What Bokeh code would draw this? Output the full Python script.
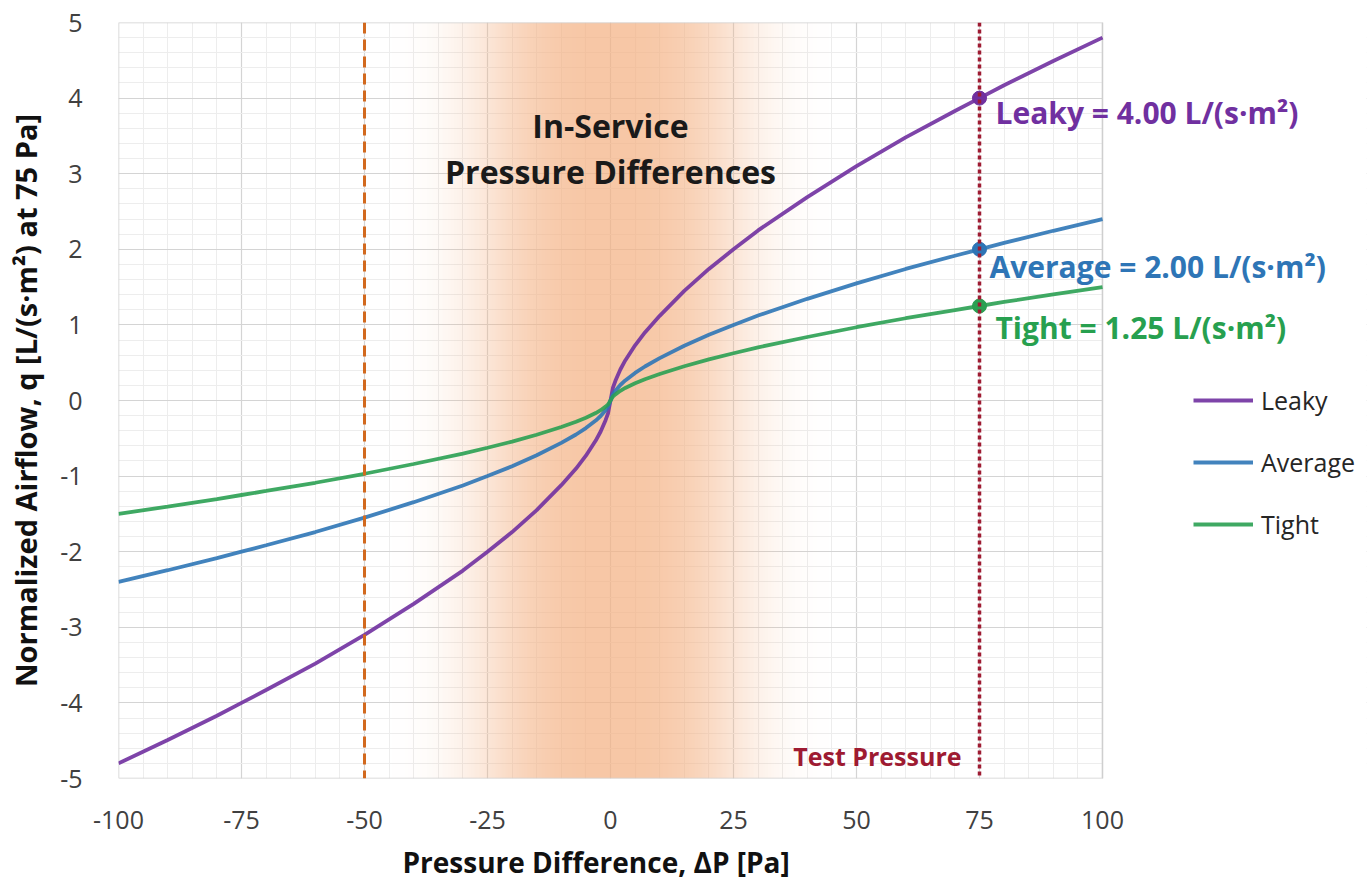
import numpy as np
from bokeh.plotting import figure
from bokeh.models import (Label, Span, Legend, LegendItem, SingleIntervalTicker,
                          FixedTicker, Range1d, Title)
from bokeh.embed import file_html
from bokeh.resources import INLINE

# ---------------- data ----------------
pressure = [-100, -90, -80, -75, -70, -60, -50, -40, -30, -25, -20, -15, -10, -7, -5, -3, -2, -1, -0.5, 0,
            0.5, 1, 2, 3, 5, 7, 10, 15, 20, 25, 30, 40, 50, 60, 70, 75, 80, 90, 100]
leaky = [-4.80, -4.49, -4.17, -4.00, -3.83, -3.48, -3.10, -2.69, -2.25, -2.00, -1.74, -1.45, -1.12, -0.90,
         -0.73, -0.53, -0.41, -0.26, -0.17, 0.0,
         0.17, 0.26, 0.41, 0.53, 0.73, 0.90, 1.12, 1.45, 1.74, 2.00, 2.25, 2.69, 3.10, 3.48, 3.83, 4.00,
         4.17, 4.49, 4.80]
average = [-2.40, -2.245, -2.085, -2.00, -1.915, -1.74, -1.55, -1.345, -1.125, -1.00, -0.87, -0.725, -0.56,
           -0.45, -0.365, -0.265, -0.205, -0.13, -0.085, 0.0,
           0.085, 0.13, 0.205, 0.265, 0.365, 0.45, 0.56, 0.725, 0.87, 1.00, 1.125, 1.345, 1.55, 1.74, 1.915,
           2.00, 2.085, 2.245, 2.40]
tight = [-1.50, -1.403, -1.303, -1.25, -1.197, -1.088, -0.969, -0.84, -0.703, -0.625, -0.544, -0.453, -0.35,
         -0.281, -0.228, -0.166, -0.128, -0.081, -0.053, 0.0,
         0.053, 0.081, 0.128, 0.166, 0.228, 0.281, 0.35, 0.453, 0.544, 0.625, 0.703, 0.84, 0.969, 1.088,
         1.197, 1.25, 1.303, 1.403, 1.50]

series_names = ["Leaky", "Average", "Tight"]
test_pressure = 75
test_values = [4.00, 2.00, 1.25]
test_labels = ["Leaky = 4.00 L/(s\u00b7m\u00b2)", "Average = 2.00 L/(s\u00b7m\u00b2)", "Tight = 1.25 L/(s\u00b7m\u00b2)"]
inservice_limit = -50
band_halfwidth = 45

x_ticks = [-100, -75, -50, -25, 0, 25, 50, 75, 100]
x_tick_labels = ["-100", "-75", "-50", "-25", "0", "25", "50", "75", "100"]
y_ticks = [-5, -4, -3, -2, -1, 0, 1, 2, 3, 4, 5]
y_tick_labels = ["-5", "-4", "-3", "-2", "-1", "0", "1", "2", "3", "4", "5"]
x_lo, x_hi = -100, 100
y_lo, y_hi = -5, 5
x_title = "Pressure Difference, \u0394P [Pa]"
y_title = "Normalized Airflow, q [L/(s\u00b7m\u00b2) at 75 Pa]"

# ---------------- layout / styles ----------------
colors = ["#7030A0", "#2E75B6", "#2AA052"]
text_colors = ["#7030A0", "#2E75B6", "#27A04F"]
FONT = "Open Sans"
W, H = 1372, 890
LEFT, TOP, BOTTOM = 118, 22, 112
PLOT_W = 984                      # pixel width of the -100..100 area
RIGHT = 6
frame_w = W - LEFT - RIGHT
x_end = x_lo + (x_hi - x_lo) * frame_w / PLOT_W

p = figure(width=W, height=H, output_backend="svg", toolbar_location=None,
           x_range=Range1d(x_lo, x_end), y_range=Range1d(y_lo, y_hi))
p.min_border_left = LEFT
p.min_border_right = RIGHT
p.min_border_top = TOP
p.min_border_bottom = BOTTOM
p.background_fill_color = "white"
p.border_fill_color = "white"
p.outline_line_color = None

# ticks & grids
p.xaxis.ticker = FixedTicker(ticks=x_ticks, minor_ticks=list(range(x_lo, x_hi + 1, 5)))
p.yaxis.ticker = SingleIntervalTicker(interval=1, num_minor_ticks=5)
p.xaxis.major_label_overrides = {t: s for t, s in zip(x_ticks, x_tick_labels)}
p.yaxis.major_label_overrides = {t: s for t, s in zip(y_ticks, y_tick_labels)}
for g in (p.xgrid, p.ygrid):
    g.grid_line_color = "#d4d4d4"
    g.grid_line_width = 1.2
    g.minor_grid_line_color = "#ededed"
    g.minor_grid_line_width = 1
p.xgrid.ticker = p.xaxis.ticker
p.ygrid.ticker = p.yaxis.ticker

for ax in (p.xaxis, p.yaxis):
    ax.axis_line_color = None
    ax.major_tick_line_color = None
    ax.minor_tick_line_color = None
    ax.major_label_text_font = FONT
    ax.major_label_text_font_size = "25px"
    ax.major_label_text_color = "#404040"
    ax.axis_label_text_font = FONT
    ax.axis_label_text_font_style = "bold"
    ax.axis_label_text_color = "#111111"

p.yaxis.axis_label = y_title
p.yaxis.axis_label_text_font_size = "29px"
p.xaxis.major_label_standoff = 26
p.yaxis.major_label_standoff = 30
p.yaxis.axis_label_standoff = 12

# x-axis title placed under the -100..100 area (the frame is wider to hold the legend)
p.add_layout(Title(text=x_title, align="left", offset=284, text_font=FONT, text_font_style="bold",
                   text_font_size="28px", text_color="#111111", standoff=18), "below")

# in-service gradient band
n = 360
xs = np.linspace(-band_halfwidth, band_halfwidth, n)
alpha = 0.72 * np.exp(-(np.abs(xs) / 27.0) ** 3)
img = np.zeros((1, n), dtype=np.uint32)
view = img.view(dtype=np.uint8).reshape((1, n, 4))
view[0, :, 0] = 244
view[0, :, 1] = 177
view[0, :, 2] = 131
view[0, :, 3] = (alpha * 255).astype(np.uint8)
p.image_rgba(image=[img], x=-band_halfwidth, y=y_lo, dw=2 * band_halfwidth, dh=y_hi - y_lo)

# white cover for the area right of the plot (legend / label space)
p.quad(left=x_hi, right=x_end, bottom=y_lo, top=y_hi, fill_color="white", line_color=None)
# plot-area border
p.line([x_lo, x_hi, x_hi, x_lo, x_lo], [y_lo, y_lo, y_hi, y_hi, y_lo], line_color="#cfcfcf", line_width=1.5)

# reference lines
p.add_layout(Span(location=inservice_limit, dimension="height", line_color="#D2691E",
                  line_width=3, line_dash="11 6"))
p.add_layout(Span(location=test_pressure, dimension="height", line_color="#9E1B32",
                  line_width=3.5, line_dash="4 3"))

# curves
renderers = []
for name, vals, c in zip(series_names, [leaky, average, tight], colors):
    r = p.line(pressure, vals, line_color=c, line_width=3.8, line_alpha=0.9)
    renderers.append(r)

# test points
p.scatter([test_pressure] * 3, test_values, size=14, color=colors, line_color=colors)

# test labels
offsets = [(16, -14), (10, -17), (16, -21)]
for lbl, v, c, (dx, dy) in zip(test_labels, test_values, text_colors, offsets):
    p.add_layout(Label(x=test_pressure, y=v, x_offset=dx, y_offset=dy, text=lbl,
                       text_color=c, text_font=FONT, text_font_style="bold",
                       text_font_size="30px", text_baseline="middle", text_align="left"))

p.add_layout(Label(x=0, y=4.0, text="In-Service", text_font=FONT, text_font_style="bold",
                   text_font_size="32px", text_color="#1a1a1a", text_align="center",
                   text_baseline="middle", y_offset=-27))
p.add_layout(Label(x=0, y=3.0, text="Pressure Differences", text_font=FONT, text_font_style="bold",
                   text_font_size="32px", text_color="#1a1a1a", text_align="center",
                   text_baseline="middle", y_offset=2))
p.add_layout(Label(x=test_pressure, y=-4.5, text="Test Pressure", text_font=FONT,
                   text_font_style="bold", text_font_size="25px", text_color="#9E1B32",
                   text_align="right", text_baseline="middle", x_offset=-18, y_offset=-15))

legend = Legend(items=[LegendItem(label=nm, renderers=[r]) for nm, r in zip(series_names, renderers)],
                location=(1075, 237))
legend.background_fill_alpha = 0
legend.border_line_color = None
legend.margin = 0
legend.padding = 0
legend.spacing = 28
legend.glyph_width = 60
legend.glyph_height = 20
legend.label_height = 20
legend.label_standoff = 8
legend.label_text_font = FONT
legend.label_text_font_size = "25px"
legend.label_text_color = "#262626"
legend.label_text_baseline = "middle"
p.add_layout(legend)

open("out.html", "w").write(file_html(p, INLINE))
